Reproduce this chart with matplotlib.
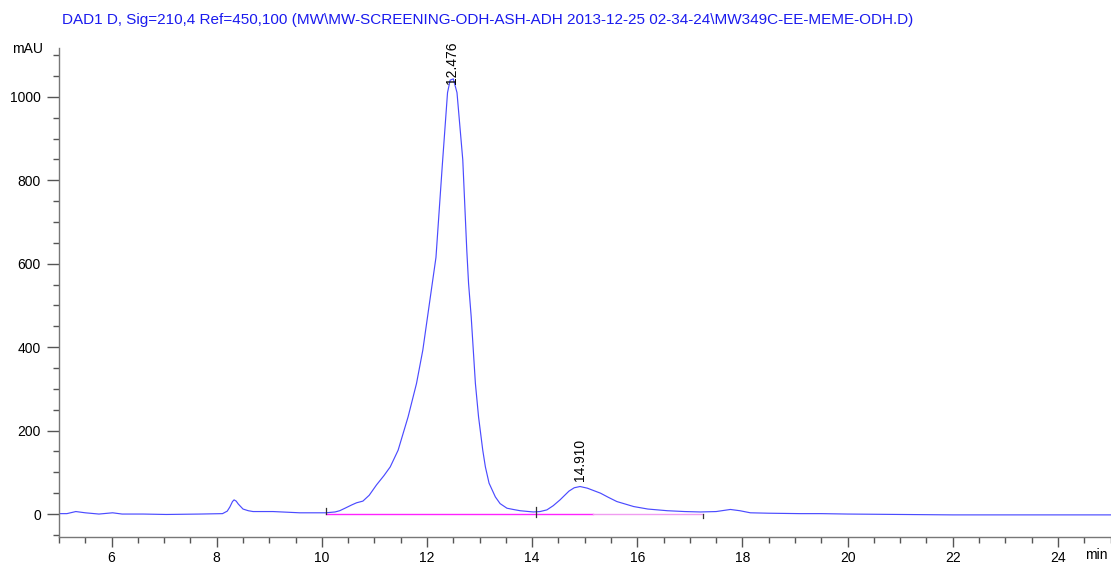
import matplotlib
matplotlib.use("Agg")
import matplotlib.pyplot as plt
from matplotlib.ticker import MultipleLocator

plt.rcParams["font.family"] = ["Liberation Sans", "DejaVu Sans"]

# ── data ──────────────────────────────────────────────────────────────────────
TITLE = ("DAD1 D, Sig=210,4 Ref=450,100 (MW\\MW-SCREENING-ODH-ASH-ADH "
         "2013-12-25 02-34-24\\MW349C-EE-MEME-ODH.D)")

rt_min = [5.00, 5.15, 5.32, 5.50, 5.76, 6.02, 6.20, 6.60, 7.04, 7.68,
          8.11, 8.20, 8.25, 8.30, 8.33, 8.37, 8.41, 8.50, 8.60, 8.69,
          9.07, 9.58, 10.07, 10.25, 10.34, 10.44, 10.57, 10.66, 10.78, 10.90,
          11.04, 11.18, 11.30, 11.45, 11.64, 11.80, 11.92, 12.01, 12.10, 12.17,
          12.29, 12.39, 12.44, 12.50, 12.57, 12.68, 12.756, 12.79, 12.84, 12.88,
          12.92, 12.98, 13.06, 13.11, 13.18, 13.30, 13.39, 13.52, 13.64, 13.77,
          14.02, 14.15, 14.28, 14.40, 14.53, 14.70, 14.80, 14.91, 15.05, 15.30,
          15.45, 15.61, 15.93, 16.20, 16.57, 16.90, 17.20, 17.50, 17.77, 17.95,
          18.15, 18.50, 19.10, 19.50, 20.00, 21.00, 22.00, 23.00, 24.00, 25.00]
signal_mau = [1, 1, 6, 3, 0, 3, 0, 0, -1, 0,
              1, 7, 17, 30, 34, 31, 24, 12, 8, 6,
              6, 3, 3, 5, 8, 14, 22, 27, 31, 45,
              70, 92, 113, 153, 233, 313, 393, 473, 553, 615,
              835, 1010, 1040, 1043, 1010, 849, 633, 553, 473, 393,
              313, 233, 153, 113, 74, 41, 25, 14, 11, 8,
              5, 6, 10, 20, 34, 55, 63, 66, 62, 50,
              40, 30, 18, 12, 8, 6, 5, 6, 11, 8,
              3, 2, 1, 1, 0, -1, -2, -2, -2, -2]

peak_rt = [12.476, 14.910]
peak_label_y = [1030, 79]
peak_labels = ["12.476", "14.910"]

# integration baselines and event markers
base_start = [10.07, 15.15]
base_end = [15.15, 17.25]
base_colors = ["#ff22ff", "#f09cf0"]
event_rt = [10.07, 14.07, 17.25]
event_lo = [0, -6, -10]
event_hi = [14, 17, 0]

# ── figure ────────────────────────────────────────────────────────────────────
W, H = 1111, 563
fig = plt.figure(figsize=(W / 100, H / 100), dpi=100)
ax = fig.add_axes([59 / W, 26 / H, 1051.5 / W, 489 / H])

for x0, x1, c in zip(base_start, base_end, base_colors):
    ax.plot([x0, x1], [0, 0], color=c, linewidth=1.0, zorder=1)
ax.plot(rt_min, signal_mau, color="#4b4bff", linewidth=0.85, zorder=2)

for x, lo, hi in zip(event_rt, event_lo, event_hi):
    ax.plot([x, x], [lo, hi], color="#333333", linewidth=0.9, zorder=3)

for x, y, lab in zip(peak_rt, peak_label_y, peak_labels):
    ax.text(x, y, lab, rotation=90, ha="center", va="bottom",
            fontsize=10, color="black", zorder=4)

ax.set_xlim(5, 25)
ax.set_ylim(-55, 1117)
ax.xaxis.set_major_locator(MultipleLocator(2))
ax.xaxis.set_minor_locator(MultipleLocator(0.5))
ax.yaxis.set_major_locator(MultipleLocator(200))
ax.yaxis.set_minor_locator(MultipleLocator(50))

for s in ["top", "right"]:
    ax.spines[s].set_visible(False)
for s in ["left", "bottom"]:
    ax.spines[s].set_color("#777777")
    ax.spines[s].set_linewidth(1.0)

ax.tick_params(which="major", length=7, width=1, color="#555555",
               labelsize=10, pad=3)
ax.tick_params(which="minor", length=4, width=1, color="#555555")
ax.tick_params(axis="y", which="major", length=9, pad=4)

xt = [t for t in range(6, 25, 2)]
ax.set_xticks(xt)
ax.set_xticklabels([str(t) for t in xt])

fig.text(12 / W, 1 - 49 / H, "mAU", fontsize=10, va="center", ha="left")
fig.text(1085 / W, 1 - 555 / H, "min", fontsize=10, va="center", ha="left")
fig.text(62 / W, 1 - 20 / H, TITLE, fontsize=11, color="#1a1aee",
         va="center", ha="left")

fig.savefig("out.png", dpi=100)
